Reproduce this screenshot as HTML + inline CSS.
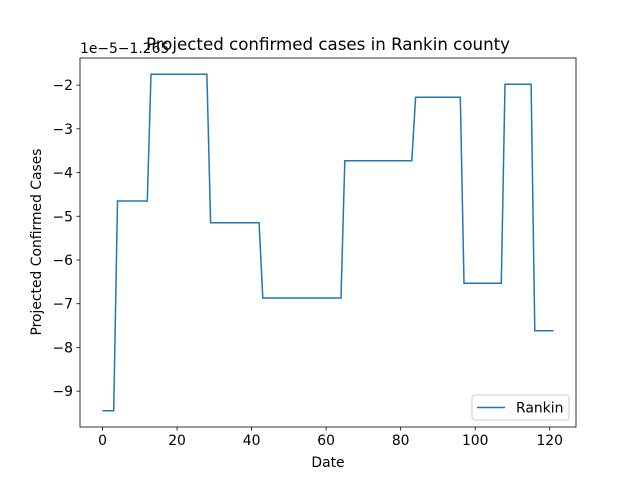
<!DOCTYPE html>
<html><head><meta charset="utf-8"><style>
body{margin:0;background:#fff;font-family:"Liberation Sans","DejaVu Sans",sans-serif;}
svg text{font-family:"DejaVu Sans","Liberation Sans",sans-serif;}
</style></head><body>
<svg id="c" width="640" height="480" xmlns="http://www.w3.org/2000/svg">
<rect width="640" height="480" fill="#fff"/>
<text x="328" y="50" font-size="16.67" text-anchor="middle" fill="#000">Projected confirmed cases in Rankin county</text>
<text x="80" y="53" font-size="13.9" fill="#000">1e−5−1.265</text>
<text x="328" y="467" font-size="13.9" text-anchor="middle">Date</text>
<text x="0" y="0" font-size="13.9" text-anchor="middle" transform="translate(41,242) rotate(-90)">Projected Confirmed Cases</text>
<g id="ticks"></g>
<polyline id="line" fill="none" stroke="#1f77b4" stroke-width="1.5"/>
<rect x="80" y="58" width="496" height="369" fill="none" stroke="#000" stroke-width="0.8"/>
<g>
<rect x="472" y="395" width="97" height="25" rx="3" fill="#fff" stroke="#ccc"/>
<line x1="477" y1="407.5" x2="505" y2="407.5" stroke="#1f77b4" stroke-width="1.5"/>
<text x="516" y="412.5" font-size="13.9">Rankin</text>
</g>
</svg>
<script>
const segStart = [0, 4, 13, 29, 43, 65, 84, 97, 108, 116];
const segEnd   = [3, 12, 28, 42, 64, 83, 96, 107, 115, 121];
const segLevel = [-9.45, -4.65, -1.75, -5.15, -6.87, -3.73, -2.28, -6.53, -1.98, -7.62];
const xTicks = [0, 20, 40, 60, 80, 100, 120];
const yTicks = [-9, -8, -7, -6, -5, -4, -3, -2];
const L=80,R=576,T=58,B=427;
const xmin=-6.05,xmax=127.05,ymin=-9.82,ymax=-1.38;
const sx=v=>L+(v-xmin)/(xmax-xmin)*(R-L);
const sy=v=>B-(v-ymin)/(ymax-ymin)*(B-T);
const pts=[];
for(let i=0;i<segStart.length;i++){for(let d=segStart[i];d<=segEnd[i];d++)pts.push(sx(d).toFixed(1)+','+sy(segLevel[i]).toFixed(1));}
const line=document.getElementById('line');
line.setAttribute('points',pts.join(' '));
const g=document.getElementById('ticks');
const NS='http://www.w3.org/2000/svg';
xTicks.forEach(t=>{
 const l=document.createElementNS(NS,'line');
 l.setAttribute('x1',sx(t));l.setAttribute('x2',sx(t));l.setAttribute('y1',B);l.setAttribute('y2',B+3.5);l.setAttribute('stroke','#000');l.setAttribute('stroke-width','0.8');
 
 
 g.appendChild(l);
 const tx=document.createElementNS(NS,'text');
 tx.setAttribute('x',sx(t));tx.setAttribute('y',B+18);tx.setAttribute('font-size','13.9');tx.setAttribute('text-anchor','middle');tx.textContent=t;
 
 
 g.appendChild(tx);
});
yTicks.forEach(t=>{
 const l=document.createElementNS(NS,'line');
 l.setAttribute('x1',L-3.5);l.setAttribute('x2',L);l.setAttribute('y1',sy(t));l.setAttribute('y2',sy(t));l.setAttribute('stroke','#000');l.setAttribute('stroke-width','0.8');
 
 
 g.appendChild(l);
 const tx=document.createElementNS(NS,'text');
 tx.setAttribute('x',L-7);tx.setAttribute('y',sy(t)+5);tx.setAttribute('font-size','13.9');tx.setAttribute('text-anchor','end');tx.textContent='−'+Math.abs(t);
 
 
 g.appendChild(tx);
});
</script>
</body></html>
